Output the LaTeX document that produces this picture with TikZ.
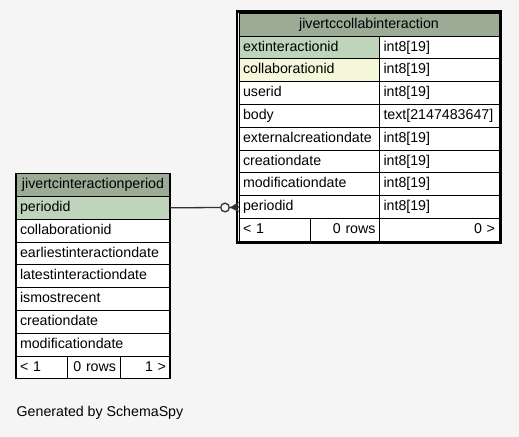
\documentclass[tikz,border=0pt]{standalone}
\usepackage{fontspec}
\setmainfont{Liberation Sans}
\usepackage{tikz}
\definecolor{bggray}{HTML}{F5F5F5}
\definecolor{hdrgreen}{HTML}{9BAB96}
\definecolor{pkgreen}{HTML}{BFD5BB}
\definecolor{fkyellow}{HTML}{F4F7DA}
\definecolor{connline}{HTML}{333333}
\newcommand{\tabfont}{\fontsize{14.2bp}{16bp}\selectfont}

\begin{document}
\begin{tikzpicture}[x=1bp, y=-1bp,
			cell/.style={draw=black, line width=0.8bp, fill=white, anchor=north west, inner xsep=4bp, inner ysep=0pt, outer sep=0pt, minimum height=22.8bp, text height=10.4bp, text depth=2.9bp, font=\tabfont},
			rcol/.style={cell, text width=132.5bp, align=left},
			rtyp/.style={cell, text width=111.5bp, align=left},
			lcol/.style={cell, text width=146bp, align=left},
			hdr/.style={fill=hdrgreen, align=center},
			pk/.style={fill=pkgreen},
			fk/.style={fill=fkyellow},
			conn/.style={draw=connline, line width=1.3bp}
		]
		\fill[bggray] (0,0) rectangle (519,437);

		\node[cell, hdr, text width=252bp] (rhead) at (239,13.2) {jivertccollabinteraction};
		\node[rcol, pk] (rext) at (239,36) {extinteractionid};
		\node[rtyp] at (379.5,36) {int8[19]};
		\node[rcol, fk] (rcollab) at (239,58.8) {collaborationid};
		\node[rtyp] at (379.5,58.8) {int8[19]};
		\node[rcol] (ruser) at (239,81.6) {userid};
		\node[rtyp] at (379.5,81.6) {int8[19]};
		\node[rcol] (rbody) at (239,104.4) {body};
		\node[rtyp] at (379.5,104.4) {text[2147483647]};
		\node[rcol] (rextdate) at (239,127.2) {externalcreationdate};
		\node[rtyp] at (379.5,127.2) {int8[19]};
		\node[rcol] (rcreate) at (239,150) {creationdate};
		\node[rtyp] at (379.5,150) {int8[19]};
		\node[rcol] (rmodif) at (239,172.8) {modificationdate};
		\node[rtyp] at (379.5,172.8) {int8[19]};
		\node[rcol] (rpid) at (239,195.6) {periodid};
		\node[rtyp] at (379.5,195.6) {int8[19]};
		\node[cell, text width=63bp, align=left] (rparents) at (239,218.4) {< 1};
		\node[cell, text width=61.5bp, align=right] (rrows) at (310,218.4) {0 rows};
		\node[cell, text width=111.5bp, align=right] (rchildren) at (379.5,218.4) {0 >};
		\node[draw=black, line width=2.4bp, anchor=north west, inner sep=0pt, outer sep=0pt, minimum width=264bp, minimum height=231bp] (rtab) at (237,11.6) {};

		\node[cell, hdr, text width=146bp] (lhead) at (16,173.6) {jivertcinteractionperiod};
		\node[lcol, pk] (lpid) at (16,196.4) {periodid};
		\node[lcol] (lcollab) at (16,219.2) {collaborationid};
		\node[lcol] (learliest) at (16,242) {earliestinteractiondate};
		\node[lcol] (llatest) at (16,264.8) {latestinteractiondate};
		\node[lcol] (lrecent) at (16,287.6) {ismostrecent};
		\node[lcol] (lcreate) at (16,310.4) {creationdate};
		\node[lcol] (lmodif) at (16,333.2) {modificationdate};
		\node[cell, text width=43bp, align=left] (lparents) at (16,356) {< 1};
		\node[cell, text width=45bp, align=right] (lrows) at (67,356) {0 rows};
		\node[cell, text width=42bp, align=right] (lchildren) at (120,356) {1 >};
		\node[draw=black, line width=1.2bp, anchor=north west, inner sep=0pt, outer sep=0pt, minimum width=154bp, minimum height=205.2bp] (ltab) at (16,173.6) {};

		\node[circle, draw=connline, line width=1.3bp, fill=bggray, minimum size=8.6bp, inner sep=0pt] (odot) at (225,207.5) {};
		\draw[conn] (lpid.east) -- (odot.west);
		\draw[conn] (odot.east) -- (rpid.west);
		\fill[connline] (odot.east) -- ([yshift=5.2bp]rpid.west) -- ([xshift=-2.5bp]rpid.west) -- ([yshift=-5.2bp]rpid.west) -- cycle;

		\node[anchor=west, inner sep=0pt, font=\tabfont] (gen) at (16.5,413) {Generated by SchemaSpy};

	\end{tikzpicture}
\end{document}
